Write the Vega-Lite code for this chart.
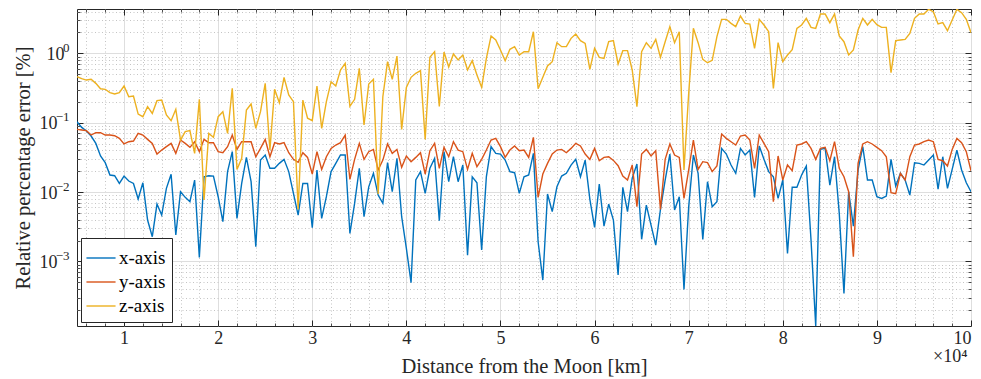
{
"$schema":"https://vega.github.io/schema/vega-lite/v6.json",
"width":894,"height":317,
"autosize":"none",
"padding":{"left":77,"top":9,"right":10,"bottom":53},
"background":"white",
"config":{"view":{"stroke":"#262626","strokeWidth":1},"font":"Liberation Serif","legend":{"labelFont":"Liberation Serif"}},
"data":{"values":[
{"d":0.5,"x-axis":0.103,"y-axis":0.0801,"z-axis":0.461},
{"d":0.55,"x-axis":0.0856,"y-axis":0.0784,"z-axis":0.431},
{"d":0.6,"x-axis":0.0758,"y-axis":0.0767,"z-axis":0.412},
{"d":0.65,"x-axis":0.0642,"y-axis":0.0664,"z-axis":0.422},
{"d":0.7,"x-axis":0.0503,"y-axis":0.0717,"z-axis":0.369},
{"d":0.75,"x-axis":0.0331,"y-axis":0.0717,"z-axis":0.309},
{"d":0.8,"x-axis":0.0265,"y-axis":0.0664,"z-axis":0.303},
{"d":0.85,"x-axis":0.0176,"y-axis":0.0664,"z-axis":0.271},
{"d":0.9,"x-axis":0.0172,"y-axis":0.0649,"z-axis":0.259},
{"d":0.95,"x-axis":0.0133,"y-axis":0.0594,"z-axis":0.271},
{"d":1.0,"x-axis":0.017,"y-axis":0.0493,"z-axis":0.338},
{"d":1.05,"x-axis":0.0144,"y-axis":0.0532,"z-axis":0.237},
{"d":1.1,"x-axis":0.0133,"y-axis":0.0544,"z-axis":0.242},
{"d":1.15,"x-axis":0.00792,"y-axis":0.0702,"z-axis":0.133},
{"d":1.2,"x-axis":0.0136,"y-axis":0.0664,"z-axis":0.122},
{"d":1.25,"x-axis":0.00395,"y-axis":0.0575,"z-axis":0.17},
{"d":1.3,"x-axis":0.00227,"y-axis":0.0503,"z-axis":0.136},
{"d":1.35,"x-axis":0.00671,"y-axis":0.0353,"z-axis":0.208},
{"d":1.4,"x-axis":0.00466,"y-axis":0.0403,"z-axis":0.212},
{"d":1.45,"x-axis":0.0113,"y-axis":0.0451,"z-axis":0.129},
{"d":1.5,"x-axis":0.018,"y-axis":0.0503,"z-axis":0.107},
{"d":1.55,"x-axis":0.0024,"y-axis":0.0361,"z-axis":0.156},
{"d":1.6,"x-axis":0.0101,"y-axis":0.0562,"z-axis":0.0562},
{"d":1.65,"x-axis":0.00838,"y-axis":0.0503,"z-axis":0.0742},
{"d":1.7,"x-axis":0.00725,"y-axis":0.0441,"z-axis":0.0767},
{"d":1.75,"x-axis":0.0149,"y-axis":0.0532,"z-axis":0.0361},
{"d":1.8,"x-axis":0.00114,"y-axis":0.0382,"z-axis":0.217},
{"d":1.85,"x-axis":0.0166,"y-axis":0.0575,"z-axis":0.00767},
{"d":1.9,"x-axis":0.0172,"y-axis":0.0515,"z-axis":0.0702},
{"d":1.95,"x-axis":0.017,"y-axis":0.0515,"z-axis":0.0615},
{"d":2.0,"x-axis":0.00856,"y-axis":0.0382,"z-axis":0.122},
{"d":2.05,"x-axis":0.00373,"y-axis":0.0369,"z-axis":0.144},
{"d":2.1,"x-axis":0.0197,"y-axis":0.0451,"z-axis":0.0702},
{"d":2.15,"x-axis":0.0382,"y-axis":0.0664,"z-axis":0.313},
{"d":2.2,"x-axis":0.00417,"y-axis":0.0412,"z-axis":0.0212},
{"d":2.25,"x-axis":0.0133,"y-axis":0.0532,"z-axis":0.0306},
{"d":2.3,"x-axis":0.0316,"y-axis":0.0532,"z-axis":0.152},
{"d":2.35,"x-axis":0.0141,"y-axis":0.0532,"z-axis":0.186},
{"d":2.4,"x-axis":0.00163,"y-axis":0.0323,"z-axis":0.0829},
{"d":2.45,"x-axis":0.0289,"y-axis":0.0426,"z-axis":0.144},
{"d":2.5,"x-axis":0.0342,"y-axis":0.0575,"z-axis":0.369},
{"d":2.55,"x-axis":0.022,"y-axis":0.0323,"z-axis":0.0403},
{"d":2.6,"x-axis":0.022,"y-axis":0.0515,"z-axis":0.303},
{"d":2.65,"x-axis":0.0259,"y-axis":0.0493,"z-axis":0.194},
{"d":2.7,"x-axis":0.0296,"y-axis":0.0515,"z-axis":0.451},
{"d":2.75,"x-axis":0.0197,"y-axis":0.0369,"z-axis":0.251},
{"d":2.8,"x-axis":0.00957,"y-axis":0.0296,"z-axis":0.201},
{"d":2.85,"x-axis":0.00466,"y-axis":0.0268,"z-axis":0.00562},
{"d":2.9,"x-axis":0.0133,"y-axis":0.0369,"z-axis":0.212},
{"d":2.95,"x-axis":0.0133,"y-axis":0.0316,"z-axis":0.116},
{"d":3.0,"x-axis":0.00306,"y-axis":0.0182,"z-axis":0.107},
{"d":3.05,"x-axis":0.0208,"y-axis":0.0382,"z-axis":0.338},
{"d":3.1,"x-axis":0.00417,"y-axis":0.0212,"z-axis":0.0829},
{"d":3.15,"x-axis":0.00856,"y-axis":0.0323,"z-axis":0.201},
{"d":3.2,"x-axis":0.0197,"y-axis":0.0426,"z-axis":0.39},
{"d":3.25,"x-axis":0.0259,"y-axis":0.0476,"z-axis":0.338},
{"d":3.3,"x-axis":0.0342,"y-axis":0.0515,"z-axis":0.575},
{"d":3.35,"x-axis":0.0342,"y-axis":0.0664,"z-axis":0.717},
{"d":3.4,"x-axis":0.00253,"y-axis":0.0152,"z-axis":0.172},
{"d":3.45,"x-axis":0.00686,"y-axis":0.0296,"z-axis":0.217},
{"d":3.5,"x-axis":0.022,"y-axis":0.0503,"z-axis":0.608},
{"d":3.55,"x-axis":0.00441,"y-axis":0.0296,"z-axis":0.0925},
{"d":3.6,"x-axis":0.0119,"y-axis":0.0382,"z-axis":0.361},
{"d":3.65,"x-axis":0.0186,"y-axis":0.0412,"z-axis":0.422},
{"d":3.7,"x-axis":0.00905,"y-axis":0.0208,"z-axis":0.00936},
{"d":3.75,"x-axis":0.00686,"y-axis":0.0289,"z-axis":0.237},
{"d":3.8,"x-axis":0.0265,"y-axis":0.0493,"z-axis":0.758},
{"d":3.85,"x-axis":0.0101,"y-axis":0.0361,"z-axis":0.422},
{"d":3.9,"x-axis":0.0306,"y-axis":0.0412,"z-axis":0.915},
{"d":3.95,"x-axis":0.00441,"y-axis":0.0227,"z-axis":0.0801},
{"d":4.0,"x-axis":0.00154,"y-axis":0.0331,"z-axis":0.323},
{"d":4.05,"x-axis":0.000493,"y-axis":0.0274,"z-axis":0.451},
{"d":4.1,"x-axis":0.0149,"y-axis":0.0316,"z-axis":0.515},
{"d":4.15,"x-axis":0.0197,"y-axis":0.0369,"z-axis":0.562},
{"d":4.2,"x-axis":0.00957,"y-axis":0.0182,"z-axis":0.0575},
{"d":4.25,"x-axis":0.022,"y-axis":0.0395,"z-axis":0.876},
{"d":4.3,"x-axis":0.0306,"y-axis":0.0503,"z-axis":1.057},
{"d":4.35,"x-axis":0.00386,"y-axis":0.022,"z-axis":0.172},
{"d":4.4,"x-axis":0.0382,"y-axis":0.0441,"z-axis":1.045},
{"d":4.45,"x-axis":0.0141,"y-axis":0.0323,"z-axis":0.635},
{"d":4.5,"x-axis":0.0323,"y-axis":0.0532,"z-axis":0.978},
{"d":4.55,"x-axis":0.0141,"y-axis":0.0403,"z-axis":0.801},
{"d":4.6,"x-axis":0.0245,"y-axis":0.0382,"z-axis":0.946},
{"d":4.65,"x-axis":0.00123,"y-axis":0.0212,"z-axis":0.575},
{"d":4.7,"x-axis":0.0166,"y-axis":0.0361,"z-axis":0.784},
{"d":4.75,"x-axis":0.0136,"y-axis":0.0232,"z-axis":0.487},
{"d":4.8,"x-axis":0.00146,"y-axis":0.0296,"z-axis":0.323},
{"d":4.85,"x-axis":0.0166,"y-axis":0.0403,"z-axis":0.847},
{"d":4.9,"x-axis":0.0451,"y-axis":0.0562,"z-axis":1.778},
{"d":4.95,"x-axis":0.0361,"y-axis":0.0594,"z-axis":1.557},
{"d":5.0,"x-axis":0.0353,"y-axis":0.0451,"z-axis":1.117},
{"d":5.05,"x-axis":0.0289,"y-axis":0.0316,"z-axis":0.784},
{"d":5.1,"x-axis":0.0197,"y-axis":0.0403,"z-axis":1.142},
{"d":5.15,"x-axis":0.019,"y-axis":0.0461,"z-axis":1.248},
{"d":5.2,"x-axis":0.00957,"y-axis":0.0395,"z-axis":0.946},
{"d":5.25,"x-axis":0.0166,"y-axis":0.0403,"z-axis":1.057},
{"d":5.3,"x-axis":0.0176,"y-axis":0.0316,"z-axis":1.057},
{"d":5.35,"x-axis":0.0361,"y-axis":0.0615,"z-axis":2.053},
{"d":5.4,"x-axis":0.00192,"y-axis":0.00838,"z-axis":0.309},
{"d":5.45,"x-axis":0.000538,"y-axis":0.0182,"z-axis":0.451},
{"d":5.5,"x-axis":0.00936,"y-axis":0.0259,"z-axis":0.657},
{"d":5.55,"x-axis":0.00521,"y-axis":0.0353,"z-axis":0.758},
{"d":5.6,"x-axis":0.0119,"y-axis":0.0403,"z-axis":1.425},
{"d":5.65,"x-axis":0.017,"y-axis":0.0412,"z-axis":1.248},
{"d":5.7,"x-axis":0.0186,"y-axis":0.0369,"z-axis":1.248},
{"d":5.75,"x-axis":0.0245,"y-axis":0.0426,"z-axis":1.646},
{"d":5.8,"x-axis":0.0296,"y-axis":0.0503,"z-axis":1.9},
{"d":5.85,"x-axis":0.0166,"y-axis":0.0461,"z-axis":1.523},
{"d":5.9,"x-axis":0.0289,"y-axis":0.0353,"z-axis":1.394},
{"d":5.95,"x-axis":0.00784,"y-axis":0.0296,"z-axis":0.588},
{"d":6.0,"x-axis":0.00309,"y-axis":0.0426,"z-axis":1.181},
{"d":6.05,"x-axis":0.013,"y-axis":0.0283,"z-axis":0.876},
{"d":6.1,"x-axis":0.00323,"y-axis":0.0316,"z-axis":0.847},
{"d":6.15,"x-axis":0.00671,"y-axis":0.0323,"z-axis":1.473},
{"d":6.2,"x-axis":0.00395,"y-axis":0.0286,"z-axis":1.523},
{"d":6.25,"x-axis":0.000635,"y-axis":0.024,"z-axis":0.702},
{"d":6.3,"x-axis":0.0117,"y-axis":0.017,"z-axis":1.093},
{"d":6.35,"x-axis":0.00521,"y-axis":0.0149,"z-axis":1.093},
{"d":6.4,"x-axis":0.0158,"y-axis":0.0245,"z-axis":0.575},
{"d":6.45,"x-axis":0.0253,"y-axis":0.00615,"z-axis":0.17},
{"d":6.5,"x-axis":0.00208,"y-axis":0.0353,"z-axis":1.057},
{"d":6.55,"x-axis":0.00649,"y-axis":0.0412,"z-axis":1.425},
{"d":6.6,"x-axis":0.00334,"y-axis":0.0331,"z-axis":1.181},
{"d":6.65,"x-axis":0.00172,"y-axis":0.0395,"z-axis":1.592},
{"d":6.7,"x-axis":0.00562,"y-axis":0.00562,"z-axis":0.876},
{"d":6.75,"x-axis":0.0149,"y-axis":0.0296,"z-axis":1.473},
{"d":6.8,"x-axis":0.0353,"y-axis":0.0493,"z-axis":2.426},
{"d":6.85,"x-axis":0.0055,"y-axis":0.0342,"z-axis":1.425},
{"d":6.9,"x-axis":0.00856,"y-axis":0.0316,"z-axis":2.053},
{"d":6.95,"x-axis":0.000395,"y-axis":0.0081,"z-axis":0.0208},
{"d":7.0,"x-axis":0.00615,"y-axis":0.0208,"z-axis":0.265},
{"d":7.05,"x-axis":0.0342,"y-axis":0.0562,"z-axis":2.294},
{"d":7.1,"x-axis":0.0186,"y-axis":0.0212,"z-axis":1.425},
{"d":7.15,"x-axis":0.00208,"y-axis":0.0274,"z-axis":0.819},
{"d":7.2,"x-axis":0.0141,"y-axis":0.0265,"z-axis":0.733},
{"d":7.25,"x-axis":0.00615,"y-axis":0.0197,"z-axis":0.793},
{"d":7.3,"x-axis":0.00725,"y-axis":0.0237,"z-axis":1.739},
{"d":7.35,"x-axis":0.0426,"y-axis":0.0686,"z-axis":3.093},
{"d":7.4,"x-axis":0.0353,"y-axis":0.0594,"z-axis":3.093},
{"d":7.45,"x-axis":0.0245,"y-axis":0.0532,"z-axis":2.709},
{"d":7.5,"x-axis":0.0186,"y-axis":0.0476,"z-axis":2.426},
{"d":7.55,"x-axis":0.0426,"y-axis":0.0642,"z-axis":3.455},
{"d":7.6,"x-axis":0.0342,"y-axis":0.0664,"z-axis":2.709},
{"d":7.65,"x-axis":0.0403,"y-axis":0.0562,"z-axis":2.649},
{"d":7.7,"x-axis":0.00838,"y-axis":0.022,"z-axis":1.181},
{"d":7.75,"x-axis":0.0461,"y-axis":0.0664,"z-axis":3.093},
{"d":7.8,"x-axis":0.0296,"y-axis":0.0503,"z-axis":2.562},
{"d":7.85,"x-axis":0.0197,"y-axis":0.0382,"z-axis":2.053},
{"d":7.9,"x-axis":0.0166,"y-axis":0.00725,"z-axis":0.313},
{"d":7.95,"x-axis":0.0081,"y-axis":0.0331,"z-axis":1.425},
{"d":8.0,"x-axis":0.0149,"y-axis":0.0149,"z-axis":0.758},
{"d":8.05,"x-axis":0.0013,"y-axis":0.0245,"z-axis":0.946},
{"d":8.1,"x-axis":0.0117,"y-axis":0.0203,"z-axis":1.129},
{"d":8.15,"x-axis":0.0117,"y-axis":0.0476,"z-axis":2.294},
{"d":8.2,"x-axis":0.0176,"y-axis":0.0493,"z-axis":2.562},
{"d":8.25,"x-axis":0.0237,"y-axis":0.0532,"z-axis":3.198},
{"d":8.3,"x-axis":0.00203,"y-axis":0.0426,"z-axis":2.371},
{"d":8.35,"x-axis":0.000117,"y-axis":0.0296,"z-axis":2.294},
{"d":8.4,"x-axis":0.0412,"y-axis":0.0426,"z-axis":3.692},
{"d":8.45,"x-axis":0.0426,"y-axis":0.0441,"z-axis":3.692},
{"d":8.5,"x-axis":0.0126,"y-axis":0.0283,"z-axis":2.769},
{"d":8.55,"x-axis":0.0323,"y-axis":0.0532,"z-axis":3.692},
{"d":8.6,"x-axis":0.00493,"y-axis":0.022,"z-axis":1.778},
{"d":8.65,"x-axis":0.000346,"y-axis":0.0166,"z-axis":1.473},
{"d":8.7,"x-axis":0.0101,"y-axis":0.0101,"z-axis":0.946},
{"d":8.75,"x-axis":0.00323,"y-axis":0.00117,"z-axis":1.117},
{"d":8.8,"x-axis":0.0208,"y-axis":0.0259,"z-axis":2.17},
{"d":8.85,"x-axis":0.0451,"y-axis":0.0493,"z-axis":3.198},
{"d":8.9,"x-axis":0.0149,"y-axis":0.0532,"z-axis":2.562},
{"d":8.95,"x-axis":0.0149,"y-axis":0.0493,"z-axis":3.093},
{"d":9.0,"x-axis":0.00856,"y-axis":0.0441,"z-axis":2.591},
{"d":9.05,"x-axis":0.0081,"y-axis":0.0395,"z-axis":2.371},
{"d":9.1,"x-axis":0.00876,"y-axis":0.0323,"z-axis":2.371},
{"d":9.15,"x-axis":0.0296,"y-axis":0.00978,"z-axis":0.526},
{"d":9.2,"x-axis":0.0122,"y-axis":0.00946,"z-axis":1.523},
{"d":9.25,"x-axis":0.0186,"y-axis":0.0186,"z-axis":1.557},
{"d":9.3,"x-axis":0.0149,"y-axis":0.0149,"z-axis":1.592},
{"d":9.35,"x-axis":0.00905,"y-axis":0.0323,"z-axis":1.943},
{"d":9.4,"x-axis":0.0265,"y-axis":0.0476,"z-axis":3.198},
{"d":9.45,"x-axis":0.0259,"y-axis":0.0493,"z-axis":3.692},
{"d":9.5,"x-axis":0.0245,"y-axis":0.0532,"z-axis":3.692},
{"d":9.55,"x-axis":0.0289,"y-axis":0.0562,"z-axis":4.312},
{"d":9.6,"x-axis":0.0342,"y-axis":0.0532,"z-axis":3.99},
{"d":9.65,"x-axis":0.011,"y-axis":0.0296,"z-axis":2.649},
{"d":9.7,"x-axis":0.0323,"y-axis":0.0283,"z-axis":2.769},
{"d":9.75,"x-axis":0.0113,"y-axis":0.0237,"z-axis":2.123},
{"d":9.8,"x-axis":0.0212,"y-axis":0.0412,"z-axis":3.025},
{"d":9.85,"x-axis":0.0403,"y-axis":0.0594,"z-axis":4.312},
{"d":9.9,"x-axis":0.0208,"y-axis":0.0515,"z-axis":3.859},
{"d":9.95,"x-axis":0.0136,"y-axis":0.0382,"z-axis":3.093},
{"d":10.0,"x-axis":0.0101,"y-axis":0.0203,"z-axis":1.987}
]},
"transform":[{"fold":["x-axis","y-axis","z-axis"],"as":["series","v"]}],
"resolve":{"axis":{"x":"independent","y":"independent"}},
"layer":[
{"mark":{"type":"line","strokeOpacity":0},
 "encoding":{
  "x":{"field":"d","type":"quantitative","scale":{"domain":[0.5,10],"nice":false,"zero":false},
   "axis":{"orient":"bottom","values":[0.6,0.8,1.2,1.4,1.6,1.8,2.2,2.4,2.6,2.8,3.2,3.4,3.6,3.8,4.2,4.4,4.6,4.8,5.2,5.4,5.6,5.8,6.2,6.4,6.6,6.8,7.2,7.4,7.6,7.8,8.2,8.4,8.6,8.8,9.2,9.4,9.6,9.8],
    "grid":true,"gridColor":"#c4c4c4","gridDash":[1,2.5],"gridWidth":1,"labels":false,"domain":false,
    "ticks":true,"tickSize":-3,"tickColor":"#262626","tickWidth":0.8,
    "title":"×10⁴","titleFont":"Liberation Serif","titleFontSize":18,"titleFontWeight":"normal","titleColor":"#262626",
    "titleX":890,"titleY":35,"titleAlign":"right","titleBaseline":"alphabetic","titleAnchor":null}},
  "y":{"field":"v","type":"quantitative","scale":{"type":"log","domain":[0.000117,4.36],"nice":false},
   "axis":{"orient":"left","values":[0.0002,0.0003,0.0004,0.0005,0.0006,0.0007,0.0008,0.0009,0.002,0.003,0.004,0.005,0.006,0.007,0.008,0.009,0.02,0.03,0.04,0.05,0.06,0.07,0.08,0.09,0.2,0.3,0.4,0.5,0.6,0.7,0.8,0.9,2,3,4],
    "grid":true,"gridColor":"#c4c4c4","gridDash":[1,2.5],"gridWidth":1,"labels":false,"domain":false,
    "ticks":true,"tickSize":-3,"tickColor":"#262626","tickWidth":0.8,"title":null}}
 }},
{"mark":{"type":"line","strokeOpacity":0},
 "encoding":{
  "x":{"field":"d","type":"quantitative","scale":{"domain":[0.5,10],"nice":false,"zero":false},
   "axis":{"orient":"top","values":[1,2,3,4,5,6,7,8,9,10],"grid":false,"labels":false,"domain":false,"ticks":true,"tickSize":-6,"tickColor":"#262626","tickWidth":1,"title":null}},
  "y":{"field":"v","type":"quantitative","scale":{"type":"log","domain":[0.000117,4.36],"nice":false},
   "axis":{"orient":"right","values":[0.001,0.01,0.1,1],"grid":false,"labels":false,"domain":false,"ticks":true,"tickSize":-6,"tickColor":"#262626","tickWidth":1,"title":null}}
 }},
{"mark":{"type":"line","strokeOpacity":0},
 "encoding":{
  "x":{"field":"d","type":"quantitative","scale":{"domain":[0.5,10],"nice":false,"zero":false},
   "axis":{"orient":"top","values":[0.6,0.8,1.2,1.4,1.6,1.8,2.2,2.4,2.6,2.8,3.2,3.4,3.6,3.8,4.2,4.4,4.6,4.8,5.2,5.4,5.6,5.8,6.2,6.4,6.6,6.8,7.2,7.4,7.6,7.8,8.2,8.4,8.6,8.8,9.2,9.4,9.6,9.8],"grid":false,"labels":false,"domain":false,"ticks":true,"tickSize":-3,"tickColor":"#262626","tickWidth":0.8,"title":null}},
  "y":{"field":"v","type":"quantitative","scale":{"type":"log","domain":[0.000117,4.36],"nice":false},
   "axis":{"orient":"right","values":[0.0002,0.0003,0.0004,0.0005,0.0006,0.0007,0.0008,0.0009,0.002,0.003,0.004,0.005,0.006,0.007,0.008,0.009,0.02,0.03,0.04,0.05,0.06,0.07,0.08,0.09,0.2,0.3,0.4,0.5,0.6,0.7,0.8,0.9,2,3,4],"grid":false,"labels":false,"domain":false,"ticks":true,"tickSize":-3,"tickColor":"#262626","tickWidth":0.8,"title":null}}
 }},
{"mark":{"type":"line","strokeOpacity":0},
 "encoding":{
  "y":{"field":"v","type":"quantitative","scale":{"type":"log","domain":[0.000117,4.36],"nice":false},
   "axis":{"orient":"left","values":[0.001,0.01,0.1,1],"grid":false,"ticks":false,"domain":false,"title":null,
    "labelExpr":"datum.value == 1 ? '0' : datum.value == 0.1 ? '−1' : datum.value == 0.01 ? '−2' : '−3'",
    "labelFont":"Liberation Serif","labelFontSize":13,"labelColor":"#262626","labelPadding":8,"labelOffset":-6,"labelAlign":"right","labelBaseline":"middle"}}
 }},
{"mark":{"type":"line","strokeWidth":1.4,"clip":true},
 "encoding":{
  "x":{"field":"d","type":"quantitative","scale":{"domain":[0.5,10],"nice":false,"zero":false},
   "axis":{"orient":"bottom","values":[1,2,3,4,5,6,7,8,9,10],"grid":true,"gridColor":"#dedede","gridWidth":1,"domain":false,
    "ticks":true,"tickSize":-6,"tickColor":"#262626","tickWidth":1,
    "labelFont":"Liberation Serif","labelFontSize":18,"labelColor":"#262626","labelPadding":9,"labelBaseline":"top",
    "title":"Distance from the Moon [km]","titleFont":"Liberation Serif","titleFontSize":20.5,"titleFontWeight":"normal","titleColor":"#262626",
    "titleX":447,"titleY":46,"titleBaseline":"alphabetic","titleAlign":"center","titleAnchor":null}},
  "y":{"field":"v","type":"quantitative","scale":{"type":"log","domain":[0.000117,4.36],"nice":false},
   "axis":{"orient":"left","values":[0.001,0.01,0.1,1],"grid":true,"gridColor":"#dedede","gridWidth":1,"domain":false,
    "ticks":true,"tickSize":-6,"tickColor":"#262626","tickWidth":1,
    "labelExpr":"'10'",
    "labelFont":"Liberation Serif","labelFontSize":18,"labelColor":"#262626",
    "labelPadding":{"condition":{"test":"datum.value == 1","value":19},"value":26},
    "labelOffset":1,"labelBaseline":"middle",
    "title":"Relative percentage error [%]","titleFont":"Liberation Serif","titleFontSize":20.5,"titleFontWeight":"normal","titleColor":"#262626",
    "titleX":-54,"titleY":158.5,"titleAngle":270,"titleAlign":"center","titleBaseline":"middle","titleAnchor":null}},
  "color":{"field":"series","type":"nominal","scale":{"domain":["x-axis","y-axis","z-axis"],"range":["#0072BD","#D95319","#EDB120"]},
   "legend":{"orient":"bottom-left","offset":4,"title":null,"symbolType":"M-1.12,0H1.12","symbolSize":676,"symbolStrokeWidth":1.4,
    "labelFont":"Liberation Serif","labelFontSize":19,"labelColor":"#000000","labelOffset":4,"rowPadding":0,
    "fillColor":"#ffffff","strokeColor":"#262626","padding":6}}
 }}
]
}
